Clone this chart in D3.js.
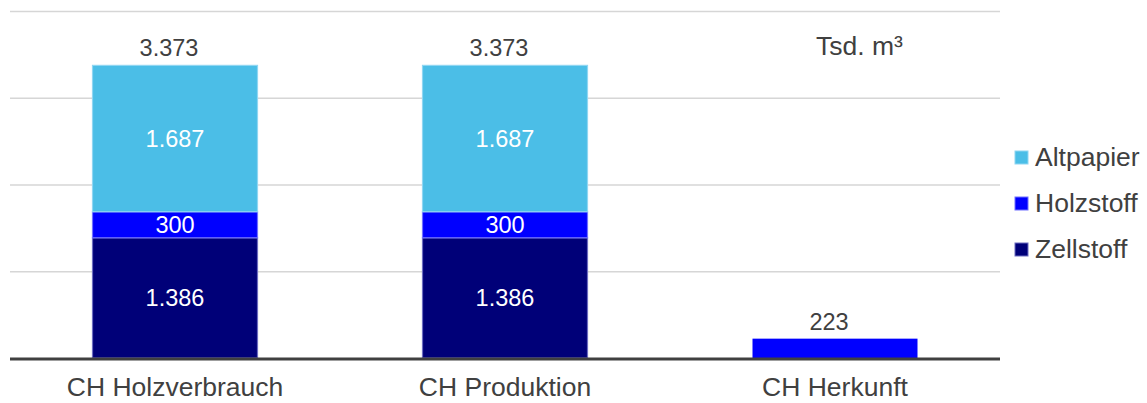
<!DOCTYPE html>
<html>
<head>
<meta charset="utf-8">
<style>
    body { margin: 0; background: #fff; }
    svg { display: block; font-family: Arial, 'Liberation Sans', sans-serif; }
    .grid line { stroke: #d6d6d6; stroke-width: 1.5; }
    .grid .domain { display: none; }
    .cat-label { font-size: 26.5px; fill: #404040; }
    .total { font-size: 23.5px; fill: #404040; }
    .seg-label { font-size: 23.5px; fill: #fff; }
    .legend text { font-size: 26.5px; fill: #404040; }
    .unit { font-size: 26.5px; fill: #404040; }
</style>
</head>
<body>
<svg width="1147" height="403"></svg>
<script src="https://d3js.org/d3.v7.min.js"></script>
<script>
// data (Tsd. m³)
let categories = ["CH Holzverbrauch", "CH Produktion", "CH Herkunft"]
let zellstoff = [1386, 1386, 0]
let holzstoff = [300, 300, 223]
let altpapier = [1687, 1687, 0]
let yTicks = [1000, 2000, 3000, 4000]

let seriesNames = ["Zellstoff", "Holzstoff", "Altpapier"]
let seriesColors = ["#000078", "#0000ff", "#4bbee7"]
let strokeColors = ["#6c6cc0", "#7070ff", "#8fd6f2"]

let rows = categories.map((c, i) => ({
    cat: c,
    Zellstoff: zellstoff[i],
    Holzstoff: holzstoff[i],
    Altpapier: altpapier[i]
}))

let de = d3.formatLocale({ decimal: ",", thousands: ".", grouping: [3], currency: ["", ""] })
let fmt = de.format(",d")

let svg = d3.select("svg")

let x = d3.scaleBand()
    .domain(categories)
    .range([10, 1000])
    .paddingInner(0.5)
    .paddingOuter(0.25)

let y = d3.scaleLinear()
    .domain([0, 4000])
    .range([358, 11])

let color = d3.scaleOrdinal().domain(seriesNames).range(seriesColors)
let stroke = d3.scaleOrdinal().domain(seriesNames).range(strokeColors)

// gridlines
svg.append("g")
    .attr("class", "grid")
    .attr("transform", "translate(10,0)")
    .call(d3.axisLeft(y).tickValues(yTicks).tickSize(-990).tickFormat(""))

let series = d3.stack().keys(seriesNames)(rows)

let layers = svg.append("g")
    .selectAll("g")
    .data(series)
    .join("g")
    .attr("fill", d => color(d.key))

layers.selectAll("rect")
    .data(d => d.map(v => ({ key: d.key, v })))
    .join("rect")
    .filter(d => d.v[1] - d.v[0] > 0)
    .attr("x", d => x(d.v.data.cat))
    .attr("width", x.bandwidth())
    .attr("y", d => y(d.v[1]))
    .attr("height", d => y(d.v[0]) - y(d.v[1]))
    .attr("stroke", d => (d.v.data.cat === "CH Herkunft" ? "none" : stroke(d.key)))
    .attr("stroke-width", 1.2)

// segment labels (only where there is room)
layers.selectAll("text")
    .data(d => d.map(v => ({ key: d.key, v })).filter(d => y(d.v[0]) - y(d.v[1]) > 22))
    .join("text")
    .attr("class", "seg-label")
    .attr("text-anchor", "middle")
    .attr("x", d => x(d.v.data.cat) + x.bandwidth() / 2)
    .attr("y", d => (y(d.v[0]) + y(d.v[1])) / 2 + 8.5)
    .text(d => fmt(d.v[1] - d.v[0]))

// totals
svg.append("g")
    .selectAll("text")
    .data(rows)
    .join("text")
    .attr("class", "total")
    .attr("text-anchor", "middle")
    .attr("x", d => x(d.cat) + x.bandwidth() / 2 - 6)
    .attr("y", d => y(d.Zellstoff + d.Holzstoff + d.Altpapier) - 9)
    .text(d => fmt(d.Zellstoff + d.Holzstoff + d.Altpapier))

// baseline
svg.append("line")
    .attr("x1", 10).attr("x2", 1000)
    .attr("y1", y(0) + 1).attr("y2", y(0) + 1)
    .attr("stroke", "#404040")
    .attr("stroke-width", 3)

// category labels
svg.append("g")
    .selectAll("text")
    .data(categories)
    .join("text")
    .attr("class", "cat-label")
    .attr("text-anchor", "middle")
    .attr("x", d => x(d) + x.bandwidth() / 2)
    .attr("y", 396)
    .text(d => d)

// unit
svg.append("text")
    .attr("class", "unit")
    .attr("x", 816)
    .attr("y", 55)
    .text("Tsd. m³")

// legend
let legend = svg.append("g")
    .attr("class", "legend")
    .selectAll("g")
    .data(seriesNames.slice().reverse())
    .join("g")
    .attr("transform", (d, i) => `translate(1015,${151 + i * 46})`)

legend.append("rect")
    .attr("width", 13)
    .attr("height", 13)
    .attr("fill", d => color(d))
    .attr("stroke", d => stroke(d))
    .attr("stroke-width", 1)

legend.append("text")
    .attr("x", 20)
    .attr("y", 15)
    .text(d => d)
</script>
</body>
</html>
